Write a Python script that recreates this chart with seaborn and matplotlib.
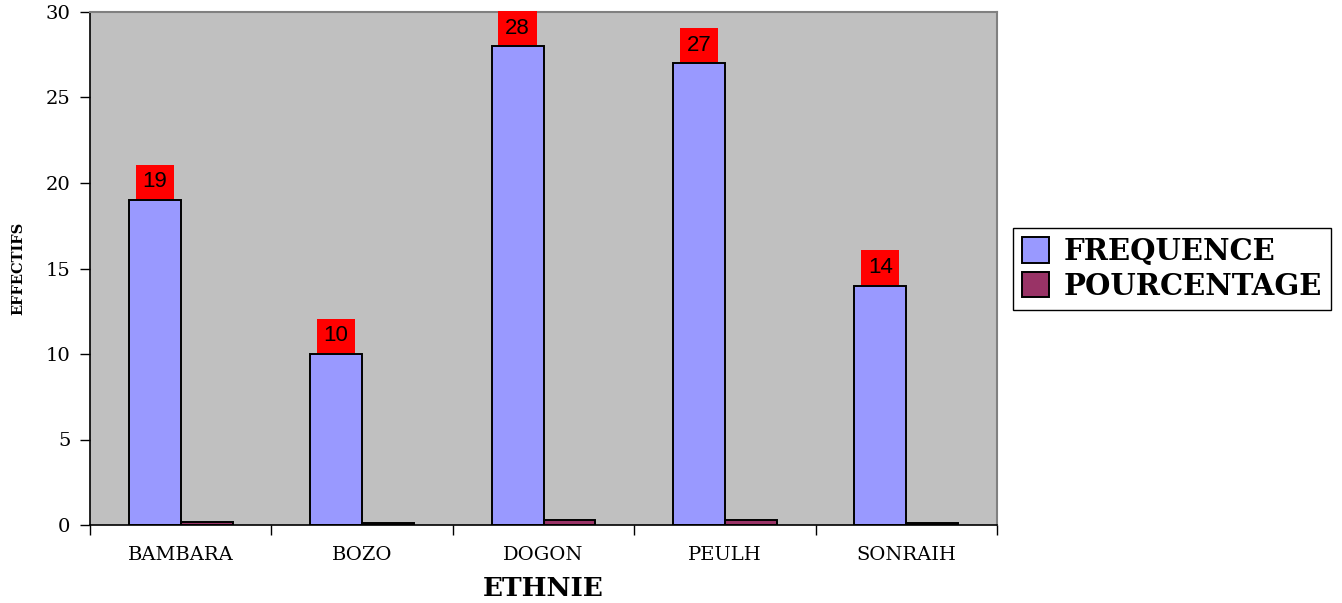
import matplotlib
matplotlib.use("Agg")
import matplotlib.pyplot as plt
from matplotlib.ticker import FixedLocator
import seaborn as sns
import pandas as pd

# Effectifs par ethnie
ethnies = ["BAMBARA", "BOZO", "DOGON", "PEULH", "SONRAIH"]
frequence = [19, 10, 28, 27, 14]
pourcentage = [0.19, 0.10, 0.29, 0.28, 0.14]
series = ["FREQUENCE", "POURCENTAGE"]
couleurs = ["#9999FF", "#993366"]

df = pd.DataFrame({
    "ethnie": ethnies * 2,
    "serie": [series[0]] * len(ethnies) + [series[1]] * len(ethnies),
    "valeur": frequence + pourcentage,
})

sns.set_theme(style="white")
plt.rcParams["font.family"] = ["DejaVu Serif"]
plt.rcParams["text.color"] = "black"
plt.rcParams["xtick.color"] = "black"
plt.rcParams["ytick.color"] = "black"
plt.rcParams["xtick.labelcolor"] = "black"
plt.rcParams["ytick.labelcolor"] = "black"

fig = plt.figure(figsize=(13.42, 6.03), dpi=100)
ax = fig.add_axes([90 / 1342, 78 / 603, 907 / 1342, 513 / 603])
ax.set_facecolor("#C0C0C0")

sns.barplot(data=df, x="ethnie", y="valeur", hue="serie", palette=couleurs,
            width=0.573, edgecolor="black", linewidth=1.4, saturation=1,
            ax=ax, legend=True)

ax.set_ylim(0, 30)
ax.set_xlim(-0.5, len(ethnies) - 0.5)
ax.set_yticks(range(0, 31, 5))
ax.tick_params(axis="y", which="major", direction="out", length=7, width=1,
               labelsize=14, pad=7, left=True)
ax.tick_params(axis="x", which="major", length=0, labelsize=14, pad=15)
ax.xaxis.set_minor_locator(FixedLocator([i - 0.5 for i in range(len(ethnies) + 1)]))
ax.tick_params(axis="x", which="minor", direction="out", length=7, width=1,
               bottom=True)

for side in ["top", "right"]:
    ax.spines[side].set_color("#808080")
    ax.spines[side].set_linewidth(1.5)
for side in ["left", "bottom"]:
    ax.spines[side].set_color("black")
    ax.spines[side].set_linewidth(1.2)

ax.set_xlabel("")
ax.set_ylabel("")

# Étiquettes de valeur sur les barres de fréquence
for barre, v in zip(ax.containers[0], frequence):
    x = barre.get_x() + barre.get_width() / 2
    ax.annotate(str(v), xy=(x, v), xytext=(0, 5.5), textcoords="offset points",
                ha="center", va="bottom", fontsize=16,
                family=["Liberation Sans", "DejaVu Sans"], color="black",
                bbox=dict(boxstyle="square,pad=0.3", facecolor="#FF0000",
                          edgecolor="none"))

fig.text(543 / 1342, 1 - 589 / 603, "ETHNIE", ha="center", va="center",
         fontsize=19, fontweight="bold")
fig.text(18 / 1342, 1 - 268 / 603, "EFFECTIFS", ha="center", va="center",
         rotation=90, fontsize=10.5, fontweight="bold")

handles, labels = ax.get_legend_handles_labels()
ax.get_legend().remove()
leg = fig.legend(handles, labels, loc="center left",
                 bbox_to_anchor=(1013 / 1342, 1 - 269 / 603),
                 frameon=True, fancybox=False, edgecolor="black",
                 facecolor="white", framealpha=1, borderpad=0.3,
                 handlelength=0.95, handleheight=0.95, handletextpad=0.5,
                 labelspacing=0.2, borderaxespad=0,
                 prop=dict(family="DejaVu Serif", weight="bold", size=21))
leg.get_frame().set_linewidth(1.0)

fig.savefig("out.png", dpi=100, facecolor="white")
